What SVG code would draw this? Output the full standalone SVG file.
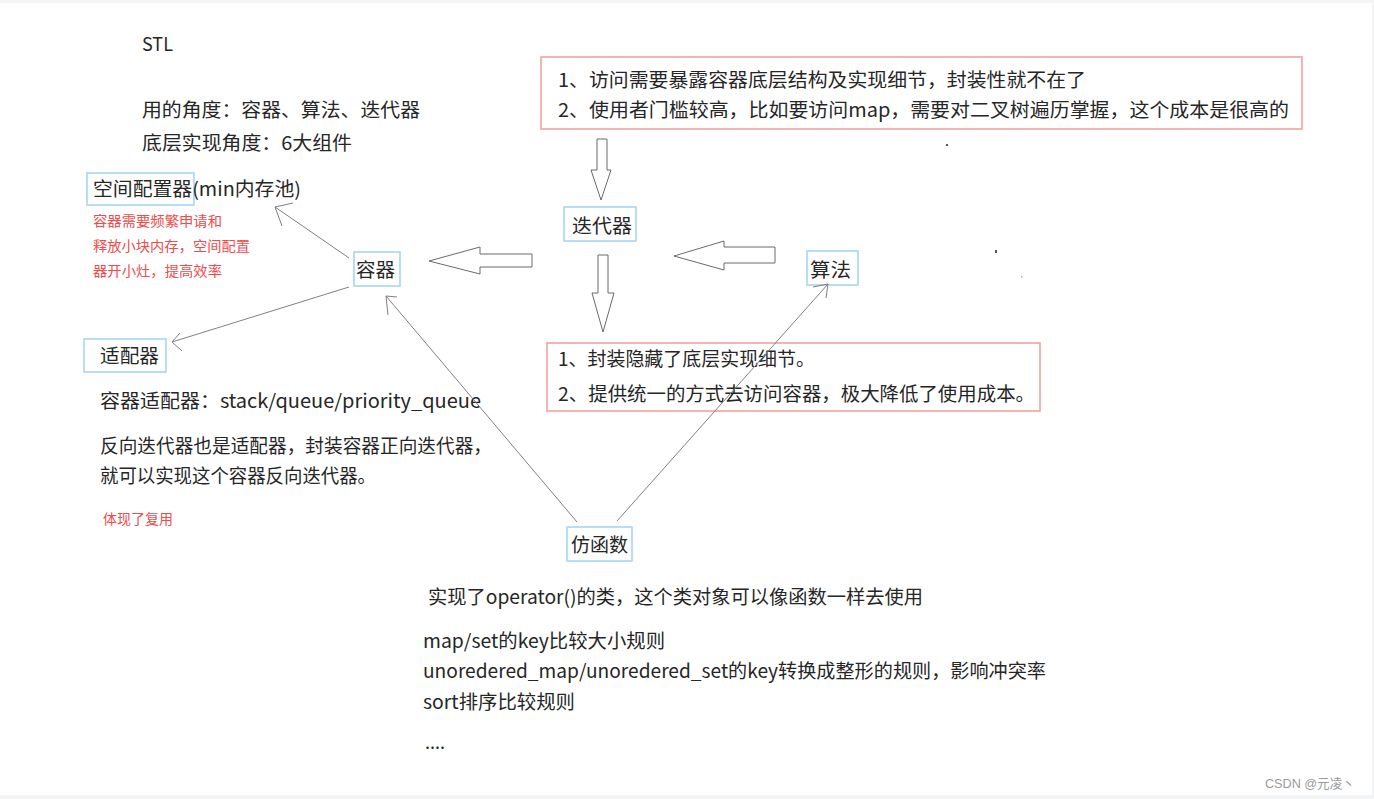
<svg xmlns="http://www.w3.org/2000/svg" width="1374" height="799" viewBox="0 0 1374 799">
<style>
.t{font-family:"Noto Sans CJK SC","Open Sans",sans-serif;font-size:19px;fill:#262626}
.r{font-family:"Noto Sans CJK SC",sans-serif;font-size:13.5px;fill:#f24a4a}
.bb{fill:#fff;stroke:#a6d6f2;stroke-width:1.6}
.rb{fill:#fff;stroke:#f2a2a2;stroke-width:1.6}
.ha{fill:#fff;stroke:#6a6a6a;stroke-width:1}
.ln{fill:none;stroke:#808080;stroke-width:1}
.wm{font-family:"Liberation Sans","Noto Sans CJK SC",sans-serif;font-size:13px;fill:#9a9a9a}
</style>
<rect x="0" y="0" width="1374" height="799" fill="#f3f4f6"/>
<rect x="0" y="3" width="1372" height="792" fill="#fff"/>

<g id="header">
<text class="t" x="142" y="51" textLength="31" lengthAdjust="spacingAndGlyphs">STL</text>
<text class="t" x="142" y="117" textLength="278" lengthAdjust="spacingAndGlyphs">用的角度：容器、算法、迭代器</text>
<text class="t" x="142" y="150" textLength="210" lengthAdjust="spacingAndGlyphs">底层实现角度：6大组件</text>
</g>

<g id="allocator">
<rect class="bb" x="87" y="173" width="107" height="32"/>
<text class="t" x="93" y="196" textLength="208" lengthAdjust="spacingAndGlyphs">空间配置器(min内存池)</text>
<text class="r" x="93" y="226" textLength="129" lengthAdjust="spacingAndGlyphs">容器需要频繁申请和</text>
<text class="r" x="93" y="251" textLength="157" lengthAdjust="spacingAndGlyphs">释放小块内存，空间配置</text>
<text class="r" x="93" y="276" textLength="129" lengthAdjust="spacingAndGlyphs">器开小灶，提高效率</text>
</g>

<g id="container">
<rect class="bb" x="354" y="252" width="46" height="34"/>
<text class="t" x="356" y="277" textLength="39" lengthAdjust="spacingAndGlyphs">容器</text>
</g>

<g id="iterator">
<rect class="bb" x="564" y="207" width="72" height="34"/>
<text class="t" x="572" y="233" textLength="60" lengthAdjust="spacingAndGlyphs">迭代器</text>
</g>

<g id="algorithm">
<rect class="bb" x="807" y="251" width="51" height="34"/>
<text class="t" x="810" y="277" textLength="41" lengthAdjust="spacingAndGlyphs">算法</text>
</g>

<g id="adapter">
<rect class="bb" x="84" y="339" width="82" height="33"/>
<text class="t" x="100" y="363" textLength="59" lengthAdjust="spacingAndGlyphs">适配器</text>
<text class="t" x="100" y="408" textLength="381" lengthAdjust="spacingAndGlyphs">容器适配器：stack/queue/priority_queue</text>
<text class="t" x="100" y="453" textLength="392" lengthAdjust="spacingAndGlyphs">反向迭代器也是适配器，封装容器正向迭代器，</text>
<text class="t" x="100" y="483" textLength="276" lengthAdjust="spacingAndGlyphs">就可以实现这个容器反向迭代器。</text>
<text class="r" x="103" y="524" textLength="70" lengthAdjust="spacingAndGlyphs">体现了复用</text>
</g>

<g id="functor">
<rect class="bb" x="567" y="527" width="65" height="34"/>
<text class="t" x="571" y="552" textLength="57" lengthAdjust="spacingAndGlyphs">仿函数</text>
<text class="t" x="428" y="604" textLength="495" lengthAdjust="spacingAndGlyphs">实现了operator()的类，这个类对象可以像函数一样去使用</text>
<text class="t" x="423" y="648" textLength="242" lengthAdjust="spacingAndGlyphs">map/set的key比较大小规则</text>
<text class="t" x="423" y="678" textLength="623" lengthAdjust="spacingAndGlyphs">unoredered_map/unoredered_set的key转换成整形的规则，影响冲突率</text>
<text class="t" x="423" y="709" textLength="152" lengthAdjust="spacingAndGlyphs">sort排序比较规则</text>
<text class="t" x="425" y="749" textLength="20" lengthAdjust="spacingAndGlyphs">....</text>
</g>

<g id="note-without-iterator">
<rect class="rb" x="541" y="57" width="761" height="72"/>
<text class="t" x="558" y="87" textLength="528" lengthAdjust="spacingAndGlyphs">1、访问需要暴露容器底层结构及实现细节，封装性就不在了</text>
<text class="t" x="558" y="117" textLength="731" lengthAdjust="spacingAndGlyphs">2、使用者门槛较高，比如要访问map，需要对二叉树遍历掌握，这个成本是很高的</text>
</g>

<g id="note-with-iterator">
<rect class="rb" x="547" y="343" width="493" height="68"/>
<text class="t" x="558" y="366" textLength="257" lengthAdjust="spacingAndGlyphs">1、封装隐藏了底层实现细节。</text>
<text class="t" x="558" y="401" textLength="477" lengthAdjust="spacingAndGlyphs">2、提供统一的方式去访问容器，极大降低了使用成本。</text>
</g>

<g id="connectors">
<polygon class="ha" points="597,139 607,139 607,170 611,170 601,200 591,170 597,170"/>
<polygon class="ha" points="598,255 608,255 608,293 614,293 603,332 592,293 598,293"/>
<polygon class="ha" points="775,247 775,263 724,263 724,270 674,256 724,241 724,247"/>
<polygon class="ha" points="532,254 532,267 480,267 480,274 429,261 480,247 480,254"/>
<path class="ln" d="M349,258 L275,207 M293,203 L275,207 L282,226"/>
<path class="ln" d="M349,287 L172,342 M180,333 L172,342 L182,351"/>
<path class="ln" d="M577,522 L386,296 M397,297 L386,296 L388,315"/>
<path class="ln" d="M617,521 L828,284 M813,287 L828,284 L826,298"/>
</g>

<g id="specks" fill="#555">
<rect x="946" y="144" width="2" height="2"/>
<rect x="995" y="250" width="2" height="3"/>
<rect x="1021" y="276" width="1.5" height="1.5" fill="#aaa"/>
</g>

<text class="wm" x="1265" y="788" textLength="90" lengthAdjust="spacingAndGlyphs">CSDN @元凌丶</text>
</svg>
